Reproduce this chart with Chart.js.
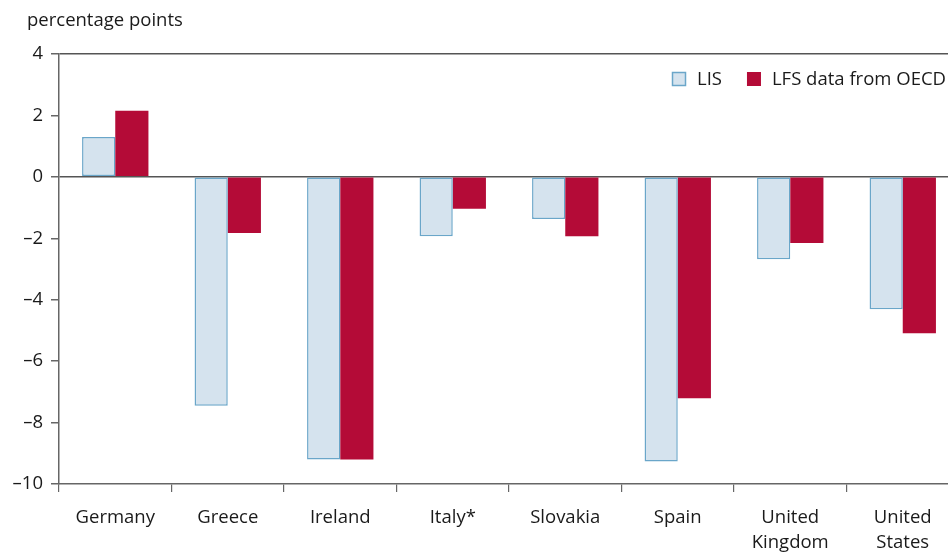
<!DOCTYPE html>
<html>
<head>
<meta charset="utf-8">
<script src="https://cdn.jsdelivr.net/npm/chart.js@4"></script>
<style>
  html, body { margin: 0; padding: 0; overflow: hidden; background: #fff; }
  #wrap { width: 960px; height: 555px; }
</style>
</head>
<body>
<div id="wrap"><canvas id="chart"></canvas></div>
<script>
const countries = ['Germany', 'Greece', 'Ireland', 'Italy*', 'Slovakia', 'Spain', ['United', 'Kingdom'], ['United', 'States']];
const lisValues = [1.3, -7.45, -9.2, -1.93, -1.37, -9.27, -2.68, -4.31];
const lfsValues = [2.15, -1.83, -9.2, -1.04, -1.93, -7.21, -2.15, -5.09];
const seriesNames = ['LIS', 'LFS data from OECD'];
const yTicks = [4, 2, 0, -2, -4, -6, -8, -10];

const FONT = "'Open Sans', 'DejaVu Sans', sans-serif";
const TEXT = '#1a1a1a';
const AXIS = '#666';

// unit label above the axis + legend in the top right of the plot
const decorations = {
  id: 'decorations',
  afterDraw(chart) {
    const ctx = chart.ctx;
    const area = chart.chartArea;
    ctx.save();
    ctx.font = '18.5px ' + FONT;
    ctx.fillStyle = TEXT;
    ctx.textBaseline = 'alphabetic';
    ctx.textAlign = 'left';
    ctx.fillText('percentage points', 27, 26);

    const sets = chart.data.datasets;
    let x = 672, y = area.top + 18;
    sets.forEach((ds, i) => {
      ctx.fillStyle = ds.backgroundColor;
      ctx.fillRect(x, y, 14, 14);
      if (ds.borderWidth) {
        ctx.strokeStyle = ds.borderColor;
        ctx.lineWidth = 1.5;
        ctx.strokeRect(x + 0.5, y + 0.5, 13, 13);
      }
      ctx.fillStyle = TEXT;
      ctx.textBaseline = 'middle';
      ctx.fillText(ds.label, x + 25, y + 8);
      x += 25 + ctx.measureText(ds.label).width + 25;
    });
    ctx.restore();
  }
};

new Chart(document.getElementById('chart'), {
  type: 'bar',
  plugins: [decorations],
  data: {
    labels: countries,
    datasets: [
      {
        label: seriesNames[0],
        data: lisValues,
        backgroundColor: '#d5e3ee',
        borderColor: '#6aa6c9',
        borderWidth: 1.5,
        borderSkipped: false
      },
      {
        label: seriesNames[1],
        data: lfsValues,
        backgroundColor: '#b40b37',
        borderWidth: 0
      }
    ]
  },
  options: {
    responsive: true,
    maintainAspectRatio: false,
    animation: false,
    layout: { padding: { top: 54, right: 1, left: 0, bottom: 0 } },
    datasets: { bar: { barPercentage: 1, categoryPercentage: 0.59 } },
    plugins: {
      legend: { display: false },
      tooltip: { enabled: false }
    },
    scales: {
      x: {
        grid: {
          offset: true,
          color: 'rgba(0,0,0,0)',
          tickColor: AXIS,
          tickLength: 8,
          lineWidth: 1.2
        },
        border: { color: AXIS, width: 1.5 },
        ticks: {
          color: TEXT,
          font: { family: FONT, size: 18.5, lineHeight: 1.35 },
          padding: 13,
          maxRotation: 0,
          autoSkip: false
        },
        afterFit(scale) { scale.height = 71; }
      },
      y: {
        min: -10,
        max: 4,
        afterBuildTicks(scale) { scale.ticks = yTicks.map(v => ({ value: v })); },
        grid: {
          color: ctx => (ctx.tick && (ctx.tick.value === 0 || ctx.tick.value === 4)) ? '#555' : 'rgba(0,0,0,0)',
          lineWidth: 1.5,
          tickColor: AXIS,
          tickLength: 8
        },
        border: { color: AXIS, width: 1.5 },
        ticks: {
          color: TEXT,
          font: { family: FONT, size: 18.5 },
          padding: 8,
          callback: v => String(v).replace('-', '\u2013')
        },
        afterFit(scale) { scale.width = 59; }
      }
    }
  }
});
</script>
</body>
</html>
